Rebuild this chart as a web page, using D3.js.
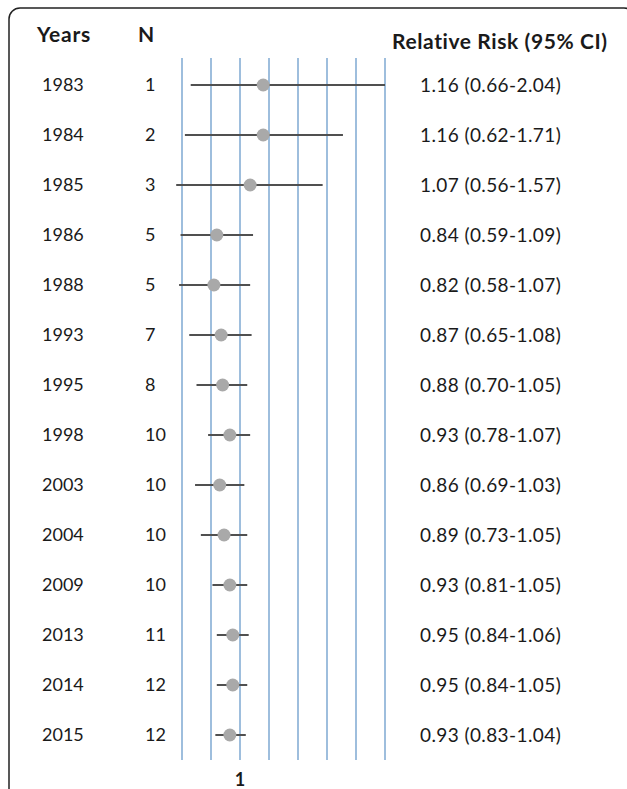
<!DOCTYPE html>
<html>
<head>
  <title>Forest plot</title>
  <script src="https://d3js.org/d3.v7.min.js"></script>
  <style>
    body { margin: 0; background: #fff; }
    svg text { font-family: Lato, "Open Sans", sans-serif; fill: #1a1a1a; }
  </style>
</head>
<body>
  <div id="chart"></div>
  <script>
    // Data
    const years = ["1983","1984","1985","1986","1988","1993","1995","1998","2003","2004","2009","2013","2014","2015"];
    const nStudies = [1, 2, 3, 5, 5, 7, 8, 10, 10, 10, 10, 11, 12, 12];
    const rr   = [1.16, 1.16, 1.07, 0.84, 0.82, 0.87, 0.88, 0.93, 0.86, 0.89, 0.93, 0.95, 0.95, 0.93];
    const low  = [0.66, 0.62, 0.56, 0.59, 0.58, 0.65, 0.70, 0.78, 0.69, 0.73, 0.81, 0.84, 0.84, 0.83];
    const high = [2.04, 1.71, 1.57, 1.09, 1.07, 1.08, 1.05, 1.07, 1.03, 1.05, 1.05, 1.06, 1.05, 1.04];
    const gridTicks = [0.6, 0.8, 1.0, 1.2, 1.4, 1.6, 1.8, 2.0];

    const rows = years.map((y, i) => ({
      year: y, n: nStudies[i], rr: rr[i], lo: low[i], hi: high[i]
    }));

    const width = 627, height = 789;
    const svg = d3.select("#chart").append("svg")
      .attr("width", width)
      .attr("height", height);

    // frame (right and bottom edges run off the picture)
    svg.append("rect")
      .attr("x", 9).attr("y", 8)
      .attr("width", 626).attr("height", 820)
      .attr("rx", 11)
      .attr("fill", "none")
      .attr("stroke", "#222")
      .attr("stroke-width", 1.5);

    const x = d3.scaleLinear().domain([0.6, 2.0]).range([182, 385]);
    const y = d3.scalePoint().domain(years).range([85, 735]);

    // vertical grid lines
    svg.selectAll(".grid")
      .data(gridTicks)
      .enter()
      .append("line")
      .attr("class", "grid")
      .attr("x1", d => x(d)).attr("x2", d => x(d))
      .attr("y1", 58).attr("y2", 760)
      .attr("stroke", "#7ea8d2")
      .attr("stroke-width", 1.5);

    // headers
    svg.append("text").attr("x", 37).attr("y", 42)
      .attr("font-size", 21).attr("font-weight", "bold")
      .attr("letter-spacing", 0.8).text("Years");
    svg.append("text").attr("x", 138).attr("y", 42)
      .attr("font-size", 21).attr("font-weight", "bold").text("N");
    svg.append("text").attr("x", 392).attr("y", 49)
      .attr("font-size", 21).attr("font-weight", "bold")
      .attr("letter-spacing", 0.6).text("Relative Risk (95% CI)");

    const g = svg.selectAll(".row")
      .data(rows)
      .enter()
      .append("g")
      .attr("class", "row")
      .attr("transform", d => `translate(0,${y(d.year)})`);

    g.append("text")
      .attr("x", 42).attr("dy", "0.35em")
      .attr("font-size", 18)
      .text(d => d.year);

    g.append("text")
      .attr("x", 145).attr("dy", "0.35em")
      .attr("font-size", 18)
      .text(d => d.n);

    g.append("line")
      .attr("x1", d => x(d.lo))
      .attr("x2", d => x(Math.min(d.hi, 2.0)))
      .attr("stroke", "#505050")
      .attr("stroke-width", 2);

    g.append("circle")
      .attr("cx", d => x(d.rr))
      .attr("r", 6.5)
      .attr("fill", "#a9a9a9");

    g.append("text")
      .attr("x", 420).attr("dy", "0.35em")
      .attr("font-size", 19)
      .attr("letter-spacing", 0.4)
      .text(d => `${d.rr.toFixed(2)} (${d.lo.toFixed(2)}-${d.hi.toFixed(2)})`);

    // label for the reference line
    svg.append("text")
      .attr("x", x(1)).attr("y", 786)
      .attr("text-anchor", "middle")
      .attr("font-size", 18).attr("font-weight", "bold")
      .text("1");
  </script>
</body>
</html>
